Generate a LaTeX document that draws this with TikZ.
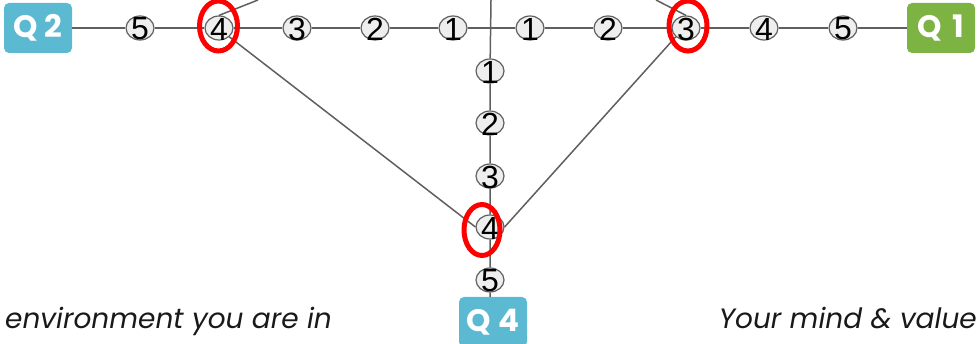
\documentclass[tikz,border=0pt]{standalone}
\usepackage{fontspec}
\setmainfont{Liberation Sans}
\newfontfamily\qfont{Poppins}
\newfontfamily\notefont{Poppins}
\usetikzlibrary{shapes.geometric}
\definecolor{qblue}{RGB}{91,185,209}
\definecolor{qgreen}{RGB}{125,179,66}
\definecolor{wire}{RGB}{95,95,95}
\definecolor{dotfill}{RGB}{238,238,238}
\begin{document}
\begin{tikzpicture}[x=1pt, y=-1pt,
    num/.style={ellipse, draw=wire, fill=dotfill, line width=1.2pt, minimum width=28pt, minimum height=24pt, inner sep=0pt,
      label={[font=\fontsize{32}{32}\selectfont, inner sep=0pt, yshift=-1pt]center:#1}},
    qbox/.style={fill=#1, rounded corners=5pt, minimum width=68pt, minimum height=50pt, inner sep=0pt,
      text=white, font=\qfont\bfseries\fontsize{31}{31}\selectfont},
    link/.style={draw=wire, line width=1.5pt},
    ring/.style={draw=red, line width=5pt},
    note/.style={inner sep=0pt, text=black!90, font=\notefont\itshape\fontsize{28}{28}\selectfont}]
    \useasboundingbox (0,0) rectangle (979,344);

    % corner boxes
    \node[qbox=qblue] (q2) at (38,28) {Q\hspace{7pt}2};
    \node[qbox=qgreen] (q1) at (941,28) {Q\hspace{10pt}1};
    \node[qbox=qblue] (q4) at (493,322) {Q\hspace{7pt}4};

    % left arm
    \node[num=5] (l5) at (140,28) {};
    \node[num=4] (l4) at (219,28) {};
    \node[num=3] (l3) at (297,28) {};
    \node[num=2] (l2) at (375,28) {};
    \node[num=1] (l1) at (453,28) {};
    % right arm
    \node[num=1] (r1) at (530,28) {};
    \node[num=2] (r2) at (608,28) {};
    \node[num=3] (r3) at (686,28) {};
    \node[num=4] (r4) at (764,28) {};
    \node[num=5] (r5) at (843,28) {};
    % down arm
    \node[num=1] (d1) at (490,71) {};
    \node[num=2] (d2) at (490,123) {};
    \node[num=3] (d3) at (490,176) {};
    \node[num=4] (d4) at (490,227) {};
    \node[num=5] (d5) at (490,280) {};

    \coordinate (top) at (491,0);
    \coordinate (ul) at (258,0);
    \coordinate (ur) at (656,0);

    \draw[link] (q2) -- (l5) -- (l4) -- (l3) -- (l2) -- (l1) -- (r1) -- (r2) -- (r3) -- (r4) -- (r5) -- (q1);
    \draw[link] (top) -- (d1) -- (d2) -- (d3) -- (d4) -- (d5) -- (q4.north -| d5);
    \draw[link] (ul) -- (l4.north);
    \draw[link] (ur) -- (r3.north);
    \draw[link] (l4.south east) -- (d4.west);
    \draw[link] (r3.south west) -- (d4.east);

    % highlighted picks
    \draw[ring] (218.5,26) ellipse (19 and 25);
    \draw[ring] (688,26) ellipse (19 and 25);
    \draw[ring] (482,230) ellipse (18 and 25.5);

    \node[note, anchor=base west] (envtext) at (5,328) {environment you are in};
    \node[note, anchor=base east] (mindtext) at (977,328) {Your mind \& value};
\end{tikzpicture}
\end{document}
